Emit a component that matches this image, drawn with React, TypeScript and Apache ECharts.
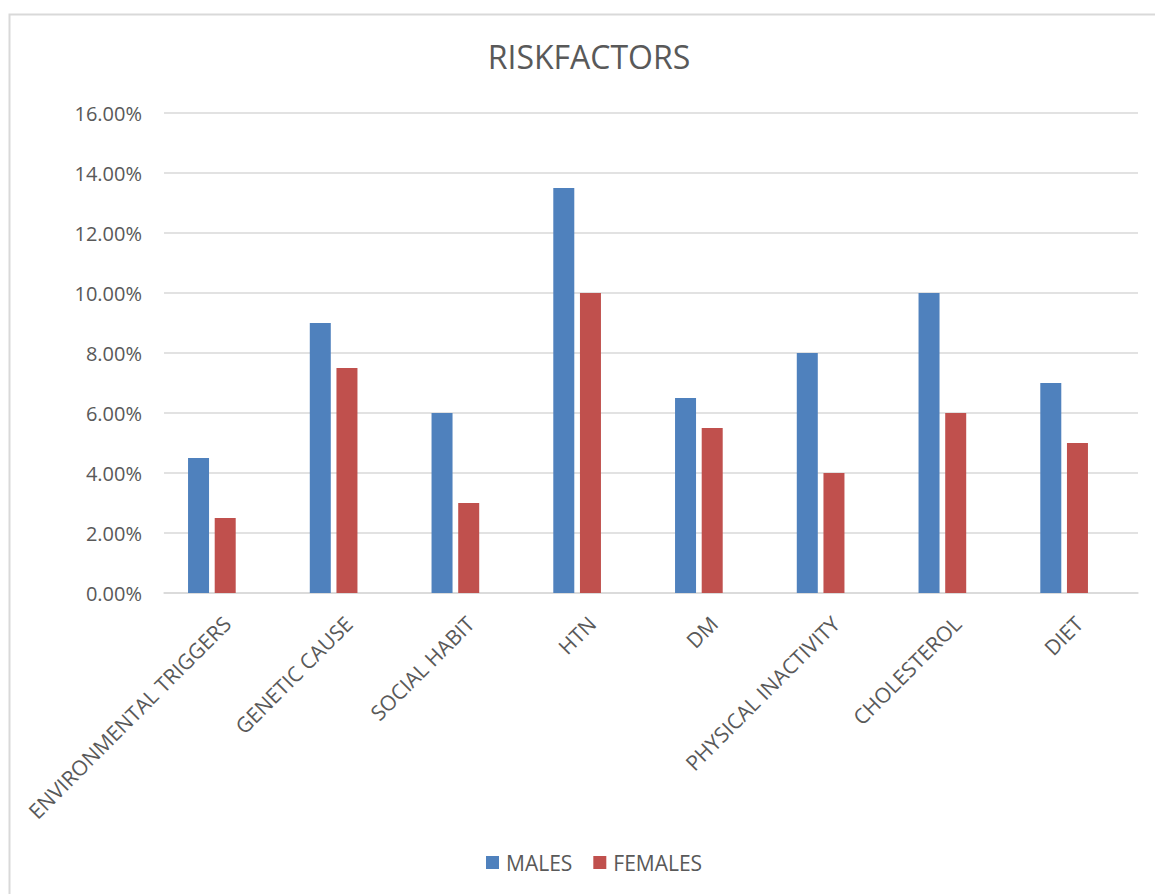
import React, { useEffect, useRef } from "react";
import * as echarts from "echarts";

const categories = [
  "ENVIRONMENTAL TRIGGERS",
  "GENETIC CAUSE",
  "SOCIAL HABIT",
  "HTN",
  "DM",
  "PHYSICAL INACTIVITY",
  "CHOLESTEROL",
  "DIET",
];
const males = [4.5, 9, 6, 13.5, 6.5, 8, 10, 7];
const females = [2.5, 7.5, 3, 10, 5.5, 4, 6, 5];
const yTicks = { min: 0, max: 16, step: 2 };

const TEXT = "#595959";
const GRID = "#D9D9D9";
const FONT = "'Open Sans', Lato, sans-serif";

export default function App() {
  const ref = useRef<HTMLDivElement>(null);

  useEffect(() => {
    if (!ref.current) return;
    const chart = echarts.init(ref.current, null, { renderer: "svg" });
    const hiddenY = (gridIndex: number) => ({
      type: "value",
      gridIndex,
      min: yTicks.min,
      max: yTicks.max,
      interval: yTicks.step,
      show: false,
      splitLine: { show: false },
    });
    chart.setOption({
      animation: false,
      backgroundColor: "#ffffff",
      textStyle: { fontFamily: FONT },
      title: {
        text: "RISKFACTORS",
        left: 584,
        top: 35,
        textAlign: "center",
        textStyle: { color: TEXT, fontSize: 32, fontWeight: "normal", fontFamily: FONT },
      },
      graphic: [
        {
          type: "rect",
          shape: { x: 9.5, y: 14.5, width: 1170, height: 900 },
          style: { fill: "none", stroke: GRID, lineWidth: 2 },
          silent: true,
        },
      ],
      legend: {
        data: ["MALES", "FEMALES"],
        left: 486,
        top: 852,
        padding: 0,
        icon: "rect",
        itemWidth: 13,
        itemHeight: 13,
        itemGap: 21,
        textStyle: { color: TEXT, fontSize: 21, fontFamily: FONT, padding: [0, 0, 0, 2] },
      },
      grid: [
        // value grid: gridlines, y labels and the baseline
        { left: 164, right: 17, top: 113, bottom: 301 },
        // bar grid: categories and bars
        { left: 151, right: 30, top: 113, bottom: 301 },
        // category label grid
        { left: 166, right: 15, top: 113, bottom: 301 },
      ],
      xAxis: [
        {
          type: "category",
          gridIndex: 0,
          data: categories,
          axisLine: { lineStyle: { color: GRID, width: 1.5 } },
          axisTick: { show: false },
          axisLabel: { show: false },
        },
        {
          type: "category",
          gridIndex: 1,
          data: categories,
          axisLine: { show: false },
          axisTick: { show: false },
          axisLabel: { show: false },
        },
        {
          type: "category",
          gridIndex: 2,
          data: categories,
          axisLine: { show: false },
          axisTick: { show: false },
          axisLabel: {
            rotate: 45,
            interval: 0,
            margin: 27,
            color: TEXT,
            fontSize: 21,
            fontFamily: FONT,
          },
        },
      ],
      yAxis: [
        {
          type: "value",
          gridIndex: 0,
          min: yTicks.min,
          max: yTicks.max,
          interval: yTicks.step,
          axisLine: { show: false },
          axisTick: { show: false },
          splitLine: { lineStyle: { color: GRID, width: 1.5 } },
          axisLabel: {
            color: TEXT,
            fontSize: 20,
            margin: 22,
            fontFamily: FONT,
            formatter: (v: number) => v.toFixed(2) + "%",
          },
        },
        hiddenY(1),
        hiddenY(2),
      ],
      series: [
        {
          name: "MALES",
          type: "bar",
          xAxisIndex: 1,
          yAxisIndex: 1,
          data: males,
          barWidth: 21,
          barGap: "27%",
          itemStyle: { color: "#4F81BD" },
        },
        {
          name: "FEMALES",
          type: "bar",
          xAxisIndex: 1,
          yAxisIndex: 1,
          data: females,
          barWidth: 21,
          itemStyle: { color: "#C0504D" },
        },
      ],
    });
    return () => chart.dispose();
  }, []);

  return (
    <div
      ref={ref}
      style={{ position: "fixed", left: 0, top: 0, width: 1155, height: 894 }}
    />
  );
}
